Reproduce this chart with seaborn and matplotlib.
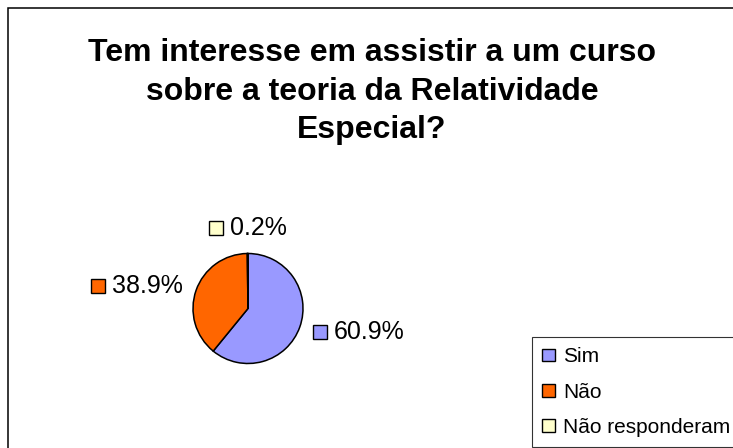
import numpy as np
import matplotlib
matplotlib.use("Agg")
import matplotlib.pyplot as plt
import seaborn as sns
from matplotlib.patches import Rectangle, Patch
from matplotlib.offsetbox import DrawingArea, TextArea, HPacker, AnnotationBbox

categories = ["Sim", "Não", "Não responderam"]
shares = [60.9, 38.9, 0.2]
label_texts = ["60.9%", "38.9%", "0.2%"]
colors = ["#9999FF", "#FF6600", "#FFFFCC"]
title = "Tem interesse em assistir a um curso\nsobre a teoria da Relatividade\nEspecial?"

sns.set_style("white")
plt.rcParams["font.family"] = ["Liberation Sans", "DejaVu Sans"]
plt.rcParams["text.color"] = "black"

W, H = 733, 448
fig = plt.figure(figsize=(W / 100, H / 100), dpi=100)
ax = fig.add_axes([0, 0, 1, 1])

center = (248, H - 308.5)
radius = 55
wedges, _ = ax.pie(shares, colors=colors, startangle=90, counterclock=False,
                   center=center, radius=radius, frame=True,
                   wedgeprops=dict(edgecolor="black", linewidth=1.1))
ax.set_xlim(0, W)
ax.set_ylim(0, H)
ax.set_aspect("equal")
ax.axis("off")

# chart area border (runs off the right and bottom edges)
ax.add_patch(Rectangle((7.5, -20), 900, H - 8 + 20, fill=False,
                       edgecolor="black", linewidth=1.1, zorder=0))

# value labels with a colour key square, placed just outside each wedge
for w, txt, col in zip(wedges, label_texts, colors):
    mid = np.deg2rad((w.theta1 + w.theta2) / 2)
    cx, cy = np.cos(mid), np.sin(mid)
    pt = (center[0] + radius * 1.25 * cx, center[1] + radius * 1.25 * cy)
    if cx > 0.2:
        align = (0, 0.5)
    elif cx < -0.2:
        align = (1, 0.5)
    else:
        align = (0.5, 0)
    da = DrawingArea(10, 10, 0, 0)
    da.add_artist(Rectangle((0, 0), 10, 10, facecolor=col,
                            edgecolor="black", linewidth=1.0))
    ta = TextArea(txt, textprops=dict(fontsize=18, color="black"))
    box = HPacker(children=[da, ta], align="center", pad=0, sep=5)
    ab = AnnotationBbox(box, pt, xycoords="data", box_alignment=align,
                        frameon=False, pad=0)
    ax.add_artist(ab)

fig.text(372 / W, 1 - 38 / H, title, ha="center", va="top", color="black",
         fontsize=23, fontweight="bold", linespacing=1.38)

handles = [Patch(facecolor=c, edgecolor="black", linewidth=1.0) for c in colors]
leg = fig.legend(handles, categories, loc="upper left",
                 bbox_to_anchor=(532 / W, 1 - 337 / H),
                 bbox_transform=fig.transFigure, borderaxespad=0,
                 fontsize=15, frameon=True, fancybox=False,
                 handlelength=0.6, handleheight=0.55, handletextpad=0.4,
                 borderpad=0.5, labelspacing=0.78)
leg.get_frame().set_edgecolor("black")
leg.get_frame().set_linewidth(0.8)
for t in leg.get_texts():
    t.set_color("black")

fig.savefig("out.png", dpi=100)
